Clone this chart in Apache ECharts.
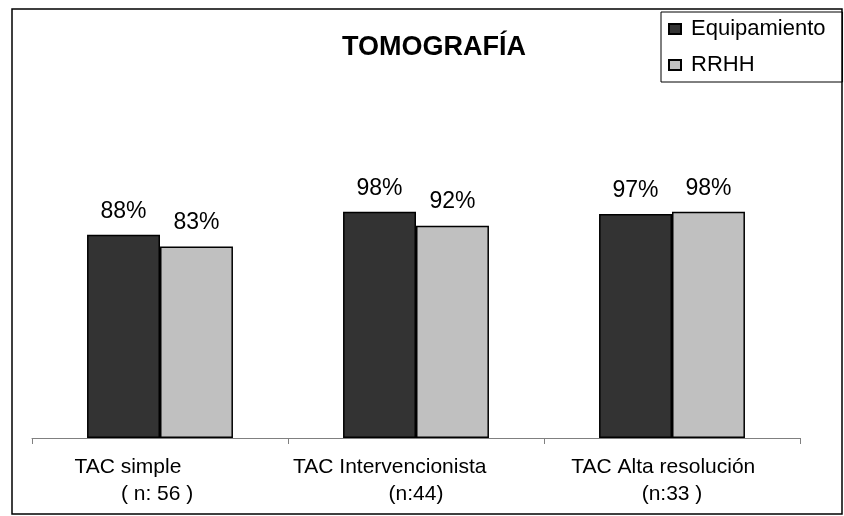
<!DOCTYPE html>
<html>
<head>
<meta charset="utf-8">
<script src="https://cdn.jsdelivr.net/npm/echarts@6/dist/echarts.min.js"></script>
<style>
html,body{margin:0;padding:0;background:#fff;}
#chart{width:844px;height:516px;}
</style>
</head>
<body>
<div id="chart"></div>
<script>
// Data
const categories = [
  "TAC simple           \n( n: 56 ) ",
  "TAC Intervencionista         \n(n:44)",
  "TAC Alta resolución   \n(n:33 )"
];
const seriesNames = ["Equipamiento", "RRHH"];
const equipamiento = [88, 98, 97];
const rrhh = [83, 92, 98];
const titleText = "TOMOGRAFÍA";

const FONT = '"Liberation Sans", Arial, Helvetica, sans-serif';
const chart = echarts.init(document.getElementById('chart'), null, {renderer: 'canvas'});

const labelOpt = {
  show: true, position: 'top', distance: 12,
  fontFamily: FONT, fontSize: 23, color: '#000',
  formatter: p => p.value + '%'
};

chart.setOption({
  backgroundColor: '#fff',
  animation: false,
  textStyle: {fontFamily: FONT},
  title: {
    text: titleText, left: 434, top: 34, padding: 0, textAlign: 'center',
    textStyle: {fontFamily: FONT, fontSize: 27, fontWeight: 'bold', color: '#000'}
  },
  legend: {
    orient: 'vertical', left: 661, top: 12,
    itemWidth: 12, itemHeight: 10, itemGap: 14,
    padding: [6, 17, 6, 7],
    borderColor: '#000', borderWidth: 1,
    icon: 'rect',
    textStyle: {fontFamily: FONT, fontSize: 22, color: '#000', padding: [0, 0, 0, 5]},
    data: seriesNames
  },
  grid: {left: 32, right: 44, top: 161, bottom: 78, containLabel: false},
  xAxis: {
    type: 'category', data: categories,
    axisLine: {lineStyle: {color: '#808080', width: 1}},
    axisTick: {show: true, length: 6, lineStyle: {color: '#808080'}},
    axisLabel: {interval: 0, fontFamily: FONT, fontSize: 21, lineHeight: 27, margin: 16, color: '#000'}
  },
  yAxis: {
    type: 'value', min: 0, max: 120, show: false,
    splitLine: {show: false}
  },
  series: [
    {
      name: seriesNames[0], type: 'bar', data: equipamiento,
      barGap: '0%', barCategoryGap: '43%',
      itemStyle: {color: '#333333', borderColor: '#000', borderWidth: 1.5},
      label: labelOpt
    },
    {
      name: seriesNames[1], type: 'bar', data: rrhh,
      barGap: '0%', barCategoryGap: '43%',
      itemStyle: {color: '#c0c0c0', borderColor: '#000', borderWidth: 1.5},
      label: labelOpt
    }
  ],
  graphic: [{
    type: 'rect', silent: true, z: -1,
    shape: {x: 12, y: 9, width: 830, height: 505},
    style: {fill: 'none', stroke: '#000', lineWidth: 1.5}
  }]
});
</script>
</body>
</html>
